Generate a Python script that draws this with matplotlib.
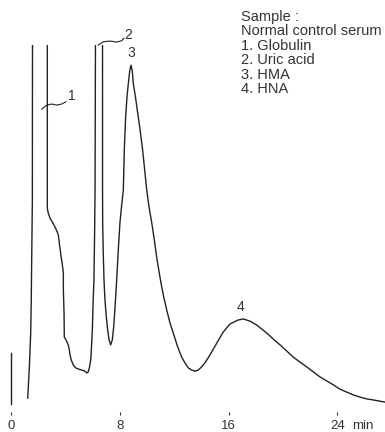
"""
Chromatogram of a normal control serum (peaks: globulin, uric acid, HMA, HNA).
Writes out.png.
"""
import matplotlib
matplotlib.use("Agg")
import matplotlib.pyplot as plt
from matplotlib.transforms import offset_copy

plt.rcParams["font.family"] = ["Liberation Sans", "DejaVu Sans"]

# retention time (min) and detector signal (arbitrary units, 100 = top of trace area)
# peaks 1 and 2 run off scale, their tops are given as rough values above 100
time_min = [1.23, 1.35, 1.45, 1.49, 1.54, 1.57, 1.58, 2.1,
            # peak 1 tail with shoulders
            2.67, 2.67, 2.74, 2.87, 3.07, 3.24, 3.40, 3.48, 3.53, 3.55,
            3.60, 3.65, 3.70, 3.75, 3.80, 3.85, 3.85, 3.90, 3.92, 4.04,
            4.21, 4.29, 4.34, 4.43, 4.58, 4.76, 4.95, 5.20, 5.44, 5.57,
            5.68, 5.76, 5.83, 5.88, 5.93, 5.98, 6.05, 6.10, 6.15, 6.18,
            6.21, 6.5,
            # peak 2 down, peak 3
            6.73, 6.73, 6.74, 6.79, 6.84, 6.91, 7.01, 7.11, 7.21, 7.33,
            7.45, 7.55, 7.65, 7.77, 7.89, 8.01, 8.14, 8.26, 8.33, 8.43,
            8.53, 8.63, 8.73, 8.82, 8.92, 8.99, 9.15, 9.36, 9.52, 9.68,
            9.83, 9.98, 10.15, 10.35, 10.54, 10.71, 10.90, 11.08, 11.25, 11.45,
            11.69, 11.93, 12.26, 12.55, 12.79, 13.04, 13.29, 13.53, 13.77, 14.02,
            # peak 4 and tail
            14.26, 14.63, 15.13, 15.61, 16.10, 16.69, 17.08, 17.57, 18.07, 18.43,
            18.80, 19.29, 19.78, 20.27, 20.76, 21.25, 21.74, 22.23, 22.72, 23.21,
            23.70, 24.19, 24.68, 25.17, 25.66, 26.15, 26.64, 27.50]
signal = [1.9, 10.6, 20.0, 29.2, 47.8, 56.9, 100, 300,
          100, 54.7, 53.3, 51.9, 50.6, 49.4, 48.1, 47.2, 45.8, 45.0,
          43.6, 42.2, 40.8, 39.7, 38.3, 36.7, 31.9, 25.6, 18.9, 18.1,
          16.7, 15.3, 13.9, 12.5, 11.1, 10.3, 10.0, 9.7, 9.4, 8.9,
          9.2, 10.3, 11.7, 13.3, 17.2, 20.8, 30.0, 34.7, 48.6, 59.7,
          100, 300,
          100, 59.7, 50.6, 41.1, 34.7, 29.2, 24.4, 20.8, 18.1, 16.7,
          18.1, 21.7, 27.2, 34.7, 43.1, 50.6, 55.6, 59.7, 70.8, 80.0,
          85.6, 89.4, 92.8, 94.4, 92.8, 89.4, 85.6, 80.0, 75.6, 70.8,
          65.3, 59.7, 55.0, 50.6, 45.8, 41.1, 36.7, 32.8, 29.7, 26.4,
          22.8, 20.0, 16.1, 13.3, 11.7, 10.3, 9.7, 9.4, 9.7, 10.6,
          11.7, 13.9, 17.2, 20.3, 22.5, 23.6, 23.9, 23.3, 22.2, 21.1,
          20.0, 18.3, 16.7, 15.0, 13.3, 11.9, 10.6, 9.2, 7.8, 6.7,
          5.6, 4.4, 3.6, 2.8, 2.2, 1.7, 1.4, 0.8]

# injection mark at t = 0
inject_t = [0, 0]
inject_s = [0.3, 14.4]

xticks = [0, 8, 16, 24]
unit_label_t = 25.9

peak_labels = ["1", "2", "3", "4"]
peak_label_t = [4.49, 8.62, 8.82, 16.91]
peak_label_s = [85.8, 102.8, 97.8, 27.2]

# wavy leader lines for the off-scale peaks
lead1_t = [2.26, 2.63, 2.99, 3.36, 3.73, 4.04]
lead1_s = [82.2, 83.3, 83.6, 83.3, 83.6, 84.25]
lead2_t = [6.42, 6.79, 7.28, 7.77, 8.14, 8.31]
lead2_s = [100.0, 100.9, 101.1, 100.8, 101.2, 101.9]

legend_lines = ["Sample :", "Normal control serum", "1. Globulin",
                "2. Uric acid", "3. HMA", "4. HNA"]

W, H = 385, 432
INK = "#222222"
TXT = "#333333"
TICK_LEN, TICK_PAD, TICK_FS = 2.2, 3.6, 9.5

fig = plt.figure(figsize=(W / 100, H / 100), dpi=100)
ax = fig.add_axes([0, (H - 412) / H, 1, (412 - 45) / H])
ax.set_xlim(-11 / 13.6, 374 / 13.6)
ax.set_ylim(-7 / 3.6, 100)

ax.plot(time_min, signal, color=INK, lw=1.0)
ax.plot(inject_t, inject_s, color=INK, lw=1.0)
ax.plot(lead1_t, lead1_s, color=INK, lw=0.8)
ax.plot(lead2_t, lead2_s, color=INK, lw=0.8, clip_on=False)

for lab, t, s in zip(peak_labels, peak_label_t, peak_label_s):
    ax.text(t, s, lab, ha="center", va="center", fontsize=10, color=TXT)

for sp in ax.spines.values():
    sp.set_visible(False)
ax.set_yticks([])
ax.set_xticks(xticks)
ax.set_xticklabels([str(v) for v in xticks])
ax.tick_params(axis="x", direction="out", length=TICK_LEN, width=0.8, color=TXT,
               labelsize=TICK_FS, labelcolor=TXT, pad=TICK_PAD)

# "min" sits on the same line as the tick labels
below = offset_copy(ax.get_xaxis_transform(), fig=fig, y=-(TICK_LEN + TICK_PAD), units="points")
ax.text(unit_label_t, 0, "min", transform=below, ha="center", va="top",
        fontsize=TICK_FS, color=TXT)

for i, line in enumerate(legend_lines):
    fig.text(241 / W, 1 - (16.7 + 14.5 * i) / H, line, ha="left", va="center",
             fontsize=10.5, color=TXT)

fig.savefig("out.png", dpi=100)
